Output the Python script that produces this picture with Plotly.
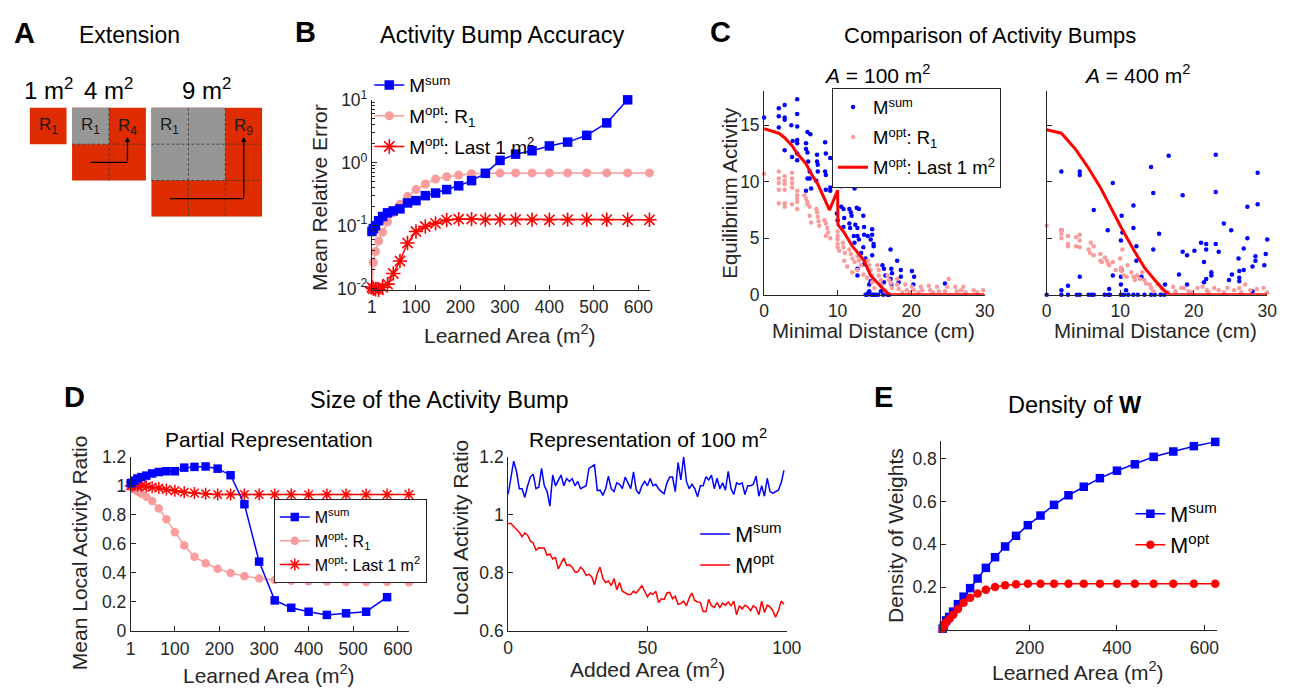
import math
import plotly.graph_objects as go

W, H = 1296, 694
FONT = "Liberation Sans, Arial, Helvetica, sans-serif"
INK = "#262626"
BLUE = "#0000FF"
RED = "#FF0000"
PINK = "#FA9C9C"
A_RED = "#DF2B00"
A_GRAY = "#969696"

# ---------------- data ----------------
learned_area = [1, 4, 9, 16, 25, 36, 49, 64, 81, 100, 121, 144, 169, 196, 225,
                256, 289, 324, 361, 400, 441, 484, 529, 576, 625]

# B: mean relative error
err_sum = [0.081, 0.09, 0.10, 0.12, 0.14, 0.16, 0.172, 0.185, 0.23, 0.25, 0.30, 0.33,
           0.375, 0.43, 0.52, 0.68, 1.09, 1.37, 1.55, 1.85, 2.13, 2.73, 4.3, 10.0]
err_r1 = [0.0103, 0.026, 0.039, 0.057, 0.079, 0.115, 0.16, 0.22, 0.29, 0.375, 0.46, 0.55,
          0.60, 0.64, 0.67, 0.68, 0.685, 0.69, 0.69, 0.69, 0.69, 0.69, 0.69, 0.69, 0.69]
err_last = [0.0105, 0.0100, 0.0098, 0.0096, 0.0105, 0.0118, 0.0174, 0.0275, 0.053, 0.081,
            0.097, 0.109, 0.123, 0.127, 0.127, 0.125, 0.125, 0.125, 0.125, 0.124, 0.125,
            0.125, 0.125, 0.124, 0.124]

# C: equilibrium activity vs minimal distance (A = 100 m^2)
c100_sum_pts = [(0, 15.7), (2, 16.5), (2, 15.8), (2, 14.8), (2.8, 16.8), (2.8, 15.7), (2.8, 15.5),
                (2.8, 12.8), (4.5, 17.3), (4.5, 16.0), (4.5, 14.9), (3.9, 13.6), (4.5, 13.7),
                (4.5, 13.4), (4.5, 12.5), (3.8, 12.2), (4.5, 11.9), (3.7, 15.0), (5.9, 14.4),
                (6.3, 14.2), (5.7, 13.4), (5.7, 12.9), (5.9, 12.6), (6.0, 11.8), (6.2, 10.9),
                (5.9, 10.3), (6.2, 10.3), (6.4, 9.4), (5.7, 9.2), (7.2, 12.4), (7.2, 11.8),
                (7.3, 11.5), (7.3, 10.9), (7.1, 10.1), (8.3, 13.5), (8.4, 12.5), (8.3, 10.9),
                (8.4, 10.6), (8.4, 9.3), (9.0, 12.1), (9.0, 9.5), (9.0, 9.2), (10, 10.1),
                (10, 9.8), (10.5, 9.6), (9.9, 7.2), (10, 6.6), (10.5, 7.8), (10.8, 7.6),
                (10.9, 6.8), (10.8, 6.0), (12.3, 9.4), (11.6, 7.6), (11.8, 7.3), (11.9, 7.0),
                (12.6, 7.7), (12.9, 7.6), (11.6, 6.3), (11.7, 5.9), (12.2, 5.2), (12.4, 6.2),
                (12.7, 5.9), (12.7, 5.2), (12.9, 4.9), (12.3, 4.6), (13.5, 7.0), (13.6, 6.0),
                (13.6, 5.3), (14.1, 5.2), (14.7, 5.8), (14.7, 5.3), (14.5, 4.9), (13.5, 4.2),
                (13.2, 3.7), (13.8, 3.2), (13.6, 2.7), (12.7, 2.3), (12.7, 1.7), (14.9, 4.5),
                (14.9, 4.3), (14.7, 3.5), (14.5, 1.2), (14.3, 0.9), (14.3, 0.3), (14.1, 0.1),
                (14.8, 0.0), (15.0, 0.0), (16.1, 2.6), (16.3, 2.3), (16.5, 1.7), (16.3, 1.1),
                (15.9, 0.3), (16.2, 0.0), (17.2, 4.0), (17.3, 2.3), (17.4, 1.9), (17.2, 1.4),
                (17.3, 0.9), (18.1, 3.0), (18.6, 2.2), (18.6, 1.6), (18.3, 1.1), (20.1, 2.1),
                (20.4, 1.6), (20.3, 0.9), (24.6, 1.0), (13.8, 0.0), (14.0, 0.0), (14.6, 0.0),
                (15.2, 0.0), (15.5, 0.0), (16.8, 0.0), (17.0, 0.0)]
c100_r1_pts = [(0, 10.7), (2, 10.9), (2, 10.3), (2, 9.9), (2, 9.3), (2, 8.1), (2.8, 10.5), (2.8, 10.1),
               (2.8, 9.8), (2.8, 9.3), (2.8, 8.1), (2.8, 7.8), (3.8, 10.8), (3.8, 10.3), (3.8, 9.9),
               (3.8, 9.5), (3.8, 8.0), (4.5, 9.2), (4.5, 8.8), (4.5, 8.5), (4.5, 8.2), (4.5, 7.6),
               (5.5, 8.8), (5.7, 8.5), (5.9, 8.2), (5.9, 8.0), (6.2, 7.8), (6.2, 7.0), (6.4, 6.4),
               (7.1, 7.6), (7.2, 7.3), (7.3, 6.9), (7.4, 6.5), (7.5, 6.1), (8.2, 6.6), (8.4, 6.3),
               (8.6, 5.9), (8.7, 5.5), (8.4, 5.2), (9.0, 5.0), (10, 5.6), (10, 5.2), (10, 4.9),
               (10, 4.5), (10, 4.2), (10.2, 3.9), (10.7, 4.6), (10.8, 4.2), (11.0, 3.7), (10.9, 3.0),
               (11.6, 4.0), (11.8, 3.6), (12.0, 3.2), (12.3, 2.9), (12.7, 3.4), (12.9, 3.0),
               (13.2, 2.6), (12.7, 2.2), (14.1, 3.0), (14.3, 2.6), (14.5, 2.2), (14.7, 1.7),
               (14.7, 1.1), (15.4, 2.6), (15.6, 2.2), (15.6, 1.7), (15.9, 1.3), (15.9, 0.9),
               (16.8, 1.7), (17.0, 1.3), (17.2, 1.0), (17.4, 0.6), (18.1, 1.4), (18.1, 0.9),
               (18.3, 0.5), (19.2, 0.9), (19.4, 0.4), (19.8, 0.2), (20.1, 0.7), (20.4, 0.4),
               (21.3, 0.7), (21.5, 0.4), (22.4, 0.8), (22.6, 0.4), (23.5, 0.7), (23.8, 0.3),
               (25.1, 1.4), (24.9, 0.7), (24.6, 0.3), (26.0, 0.7), (26.2, 0.3), (27.1, 0.7),
               (27.4, 0.2), (28.5, 0.4), (29.8, 0.4), (29.0, 0.2), (11.3, 2.5), (12.0, 2.0),
               (13.5, 1.8), (14.0, 1.5), (15.0, 0.6), (16.5, 0.4), (18.8, 0.2), (21.0, 0.2),
               (23.0, 0.2), (26.8, 0.4)]
c100_last_dist = [0, 2, 2.8, 3.8, 4.5, 5.7, 6.6, 7.3, 8.2, 8.9, 10.0, 10.05, 10.9, 12.0, 12.9,
                  13.6, 14.5, 15.4, 16.5, 17.1, 20, 25, 30]
c100_last_act = [14.7, 14.3, 13.9, 13.2, 12.5, 11.6, 10.5, 9.8, 8.5, 7.5, 9.25, 6.2, 5.5, 4.3,
                 3.6, 3.0, 1.7, 1.1, 0.3, 0, 0, 0, 0]

# C: A = 400 m^2
c400_sum_pts = [(0, 0), (2, 10.9), (2, 5.7), (2, 0.4), (2, 0), (2.9, 0.8), (2.9, 0), (4.5, 10.9),
                (4.5, 10.6), (4.5, 1.6), (4.1, 0), (4.5, 0), (6.4, 7.5), (5.7, 0), (6.1, 0), (6.4, 0),
                (8.3, 5.7), (8.5, 0.5), (7.9, 0), (8.4, 0), (8.6, 0), (9.0, 9.9), (9.0, 1.7),
                (10.2, 7.0), (10.1, 4.8), (10.3, 5.5), (10.2, 2.2), (10.1, 1.6), (10.1, 0.9),
                (10.8, 0.4), (10.1, 0), (10.5, 0), (11.1, 0), (11.8, 7.9), (11.8, 5.9), (12.2, 4.3),
                (12.2, 3.0), (12.9, 1.6), (11.8, 0), (12.4, 0), (13.3, 0), (14.2, 11.3), (14.5, 9.0),
                (14.5, 4.0), (14.2, 0), (14.7, 0), (16.6, 12.3), (15.3, 5.4), (16.1, 0.9), (15.5, 0),
                (16.0, 0), (18.5, 8.8), (18.0, 1.8), (18.5, 3.8), (19.1, 3.5), (19.1, 0.9),
                (20.1, 3.9), (21.0, 4.6), (21.7, 4.5), (21.7, 4.0), (21.4, 2.9), (21.7, 1.4),
                (21.4, 1.1), (22.4, 2.0), (22.4, 1.7), (23.0, 12.4), (23.0, 9.1), (23.0, 4.5),
                (23.4, 3.8), (24.1, 6.3), (25.1, 5.7), (24.8, 1.3), (25.2, 1.8), (26.1, 3.2),
                (26.2, 2.1), (26.2, 1.5), (26.2, 1.2), (26.8, 4.1), (26.8, 2.2), (27.3, 7.8),
                (27.3, 5.0), (28.0, 0.3), (28.0, 2.5), (28.4, 3.0), (28.4, 3.4), (28.7, 10.8),
                (28.7, 8.0), (29.8, 3.6), (29.6, 2.6), (30.0, 4.9)]
c400_r1_pts = [(0, 6.1), (2, 5.7), (2, 5.4), (2, 5.0), (2.9, 5.2), (2.9, 4.5), (2.9, 4.3), (4.0, 5.1),
               (4.0, 4.3), (4.5, 5.3), (4.5, 4.8), (4.5, 4.2), (5.7, 4.0), (5.9, 3.7), (6.0, 4.6),
               (6.4, 4.3), (6.4, 3.5), (7.3, 3.6), (7.3, 3.0), (7.5, 2.9), (7.9, 3.3), (8.2, 3.0),
               (8.4, 2.7), (8.5, 2.6), (10, 3.2), (10.1, 2.4), (10.2, 2.1), (10.5, 1.7), (10.3, 4.0),
               (10.9, 1.6), (11.5, 2.0), (11.8, 1.6), (12.0, 1.3), (12.3, 1.7), (12.7, 1.4),
               (13.3, 1.3), (13.5, 1.0), (14.0, 0.9), (14.2, 0.6), (14.5, 0.3), (15.1, 0.9),
               (15.6, 0.6), (15.9, 0.3), (17.2, 0.7), (17.5, 0.3), (18.3, 0.6), (18.7, 0.6),
               (19.3, 0.3), (20.5, 0.6), (21.2, 0.7), (21.8, 0.4), (22.8, 0.6), (23.4, 0.4),
               (24.1, 0.2), (24.6, 0.6), (25.5, 0.4), (26.2, 0.6), (27.0, 0.9), (27.7, 0.4),
               (28.6, 0.5), (29.5, 0.6), (30.0, 0.2), (9.4, 2.2), (9.0, 2.9), (11.0, 2.6),
               (13.0, 2.0), (16.5, 0.2), (19.8, 0.2), (22.0, 0.2), (26.5, 0.2)]
c400_last_dist = [0, 2, 3.9, 5.7, 7.3, 8.8, 10.1, 11.8, 13.3, 14.7, 15.8, 16.7, 20, 25, 30]
c400_last_act = [14.6, 14.3, 12.9, 11.2, 9.5, 7.6, 6.0, 4.0, 2.4, 1.3, 0.5, 0, 0, 0, 0]

# D: mean local activity ratio (partial representation)
ratio_sum = [1.018, 1.02, 1.035, 1.05, 1.06, 1.07, 1.085, 1.095, 1.10, 1.10, 1.125, 1.13,
             1.133, 1.118, 1.073, 0.873, 0.478, 0.211, 0.16, 0.133, 0.111, 0.122, 0.133, 0.233]
ratio_r1 = [1.0, 0.99, 0.975, 0.96, 0.945, 0.925, 0.895, 0.844, 0.769, 0.68, 0.589, 0.511,
            0.467, 0.429, 0.40, 0.378, 0.362, 0.351, 0.347, 0.342, 0.341, 0.338, 0.338, 0.337, 0.336]
ratio_last = [1.0, 1.0, 1.005, 1.0, 1.0, 0.995, 0.99, 0.985, 0.975, 0.965, 0.955, 0.95, 0.945,
              0.94, 0.94, 0.94, 0.94, 0.94, 0.94, 0.938, 0.94, 0.94, 0.94, 0.94, 0.94]

# D: representation of 100 m^2
added_area = list(range(0, 100))
local_sum = [1.07, 1.13, 1.185, 1.15, 1.09, 1.09, 1.06, 1.10, 1.13, 1.14,
             1.09, 1.095, 1.16, 1.10, 1.08, 1.03, 1.137, 1.10, 1.12, 1.137,
             1.10, 1.125, 1.115, 1.125, 1.10, 1.115, 1.09, 1.095, 1.10, 1.16,
             1.165, 1.172, 1.084, 1.085, 1.067, 1.09, 1.133, 1.09, 1.08, 1.11,
             1.105, 1.09, 1.13, 1.11, 1.09, 1.148, 1.085, 1.072, 1.10, 1.115,
             1.10, 1.125, 1.10, 1.105, 1.09, 1.08, 1.073, 1.11, 1.13, 1.13,
             1.08, 1.18, 1.12, 1.20, 1.115, 1.09, 1.105, 1.09, 1.062, 1.10,
             1.10, 1.131, 1.12, 1.137, 1.09, 1.126, 1.09, 1.11, 1.085, 1.15,
             1.09, 1.07, 1.11, 1.105, 1.11, 1.07, 1.10, 1.10, 1.105, 1.133,
             1.064, 1.10, 1.064, 1.126, 1.08, 1.075, 1.08, 1.085, 1.11, 1.153]
local_opt = [0.97, 0.97, 0.96, 0.95, 0.94, 0.925, 0.937, 0.93, 0.91, 0.903,
             0.878, 0.887, 0.887, 0.885, 0.861, 0.865, 0.848, 0.853, 0.814, 0.833,
             0.851, 0.826, 0.828, 0.82, 0.803, 0.803, 0.82, 0.81, 0.792, 0.795,
             0.787, 0.759, 0.798, 0.82, 0.781, 0.767, 0.772, 0.756, 0.781, 0.742,
             0.767, 0.737, 0.731, 0.726, 0.726, 0.737, 0.731, 0.742, 0.756, 0.737,
             0.718, 0.731, 0.726, 0.737, 0.698, 0.711, 0.709, 0.731, 0.733, 0.711,
             0.72, 0.692, 0.695, 0.703, 0.687, 0.714, 0.731, 0.705, 0.70, 0.698,
             0.667, 0.667, 0.709, 0.687, 0.681, 0.698, 0.681, 0.696, 0.689, 0.70,
             0.687, 0.703, 0.656, 0.687, 0.676, 0.689, 0.683, 0.67, 0.687, 0.68,
             0.656, 0.703, 0.664, 0.689, 0.683, 0.67, 0.648, 0.67, 0.703, 0.692]

# E: density of weights
dens_sum = [0.005, 0.02, 0.044, 0.06, 0.085, 0.12, 0.155, 0.195, 0.24, 0.29, 0.34, 0.39, 0.44,
            0.49, 0.535, 0.585, 0.63, 0.67, 0.71, 0.745, 0.775, 0.81, 0.835, 0.86, 0.88]
dens_opt = [0.005, 0.015, 0.035, 0.05, 0.07, 0.097, 0.127, 0.15, 0.17, 0.187, 0.20, 0.208,
            0.213, 0.215, 0.216, 0.216, 0.216, 0.216, 0.216, 0.216, 0.216, 0.216, 0.216, 0.216, 0.216]

# A: extension areas
ext_areas = [1, 4, 9]

# ---------------- helpers ----------------
def fx(p):
    return p / W


def fy(p):
    return 1 - p / H


def dom_x(a, b):
    return [fx(a), fx(b)]


def dom_y(top, bottom):
    return [fy(bottom), fy(top)]


TICKSIZE = 17.5


def axis(**kw):
    d = dict(showline=True, linecolor=INK, linewidth=1, ticks="inside", ticklen=5,
             tickwidth=1, tickcolor=INK, showgrid=False, zeroline=False, mirror=False,
             tickfont=dict(family=FONT, size=TICKSIZE, color=INK), fixedrange=True)
    d.update(kw)
    return d


annos = []


def txt(s, x, y, size, angle=0, color="#111111", xanchor="center", yanchor="middle"):
    annos.append(dict(text=s, x=fx(x), y=fy(y), xref="paper", yref="paper", showarrow=False,
                      font=dict(family=FONT, size=size, color=color), textangle=angle,
                      xanchor=xanchor, yanchor=yanchor))


fig = go.Figure()

N_SUM = "M<sup>sum</sup>"
N_R1 = "M<sup>opt</sup>: R<sub>1</sub>"
N_LAST = "M<sup>opt</sup>: Last 1 m<sup>2</sup>"

# ---------------- B ----------------
fig.add_trace(go.Scatter(x=learned_area, y=err_r1, mode="lines+markers", name=N_R1,
                         line=dict(color=PINK, width=1.5),
                         marker=dict(symbol="circle", size=9, color=PINK),
                         xaxis="x", yaxis="y", legend="legend", legendrank=2, legendgroup="b2",
                         cliponaxis=False))
fig.add_trace(go.Scatter(x=learned_area, y=err_last, mode="lines+markers", name=N_LAST,
                         line=dict(color=RED, width=1.5),
                         marker=dict(symbol="asterisk-open", size=12, line=dict(color=RED, width=1.6)),
                         xaxis="x", yaxis="y", legend="legend", legendrank=3, legendgroup="b3",
                         cliponaxis=False))
fig.add_trace(go.Scatter(x=learned_area[:len(err_sum)], y=err_sum, mode="lines+markers", name=N_SUM,
                         line=dict(color=BLUE, width=1.5),
                         marker=dict(symbol="square", size=9.5, color=BLUE),
                         xaxis="x", yaxis="y", legend="legend", legendrank=1, legendgroup="b1",
                         cliponaxis=False))

# ---------------- C ----------------
for pts_sum, pts_r1, ld, la, xa, ya, show in [
        (c100_sum_pts, c100_r1_pts, c100_last_dist, c100_last_act, "x2", "y2", True),
        (c400_sum_pts, c400_r1_pts, c400_last_dist, c400_last_act, "x3", "y3", False)]:
    fig.add_trace(go.Scatter(x=[p[0] for p in pts_sum], y=[p[1] for p in pts_sum], mode="markers",
                             name=N_SUM, marker=dict(size=4.5, color=BLUE), xaxis=xa, yaxis=ya,
                             legend="legend2", legendgroup="c1", showlegend=show, cliponaxis=False))
    fig.add_trace(go.Scatter(x=[p[0] for p in pts_r1], y=[p[1] for p in pts_r1], mode="markers",
                             name=N_R1, marker=dict(size=4.5, color=PINK), xaxis=xa, yaxis=ya,
                             legend="legend2", legendgroup="c2", showlegend=show, cliponaxis=False))
    fig.add_trace(go.Scatter(x=ld, y=la, mode="lines", name=N_LAST,
                             line=dict(color=RED, width=3), xaxis=xa, yaxis=ya,
                             legend="legend2", legendgroup="c3", showlegend=show, cliponaxis=False))

# ---------------- D left ----------------
fig.add_trace(go.Scatter(x=learned_area, y=ratio_r1, mode="lines+markers", name=N_R1,
                         line=dict(color=PINK, width=1.5),
                         marker=dict(symbol="circle", size=8.5, color=PINK),
                         xaxis="x4", yaxis="y4", legend="legend3", legendrank=2, cliponaxis=False))
fig.add_trace(go.Scatter(x=learned_area, y=ratio_last, mode="lines+markers", name=N_LAST,
                         line=dict(color=RED, width=1.5),
                         marker=dict(symbol="asterisk-open", size=10, line=dict(color=RED, width=1.5)),
                         xaxis="x4", yaxis="y4", legend="legend3", legendrank=3, cliponaxis=False))
fig.add_trace(go.Scatter(x=learned_area[:len(ratio_sum)], y=ratio_sum, mode="lines+markers", name=N_SUM,
                         line=dict(color=BLUE, width=1.5),
                         marker=dict(symbol="square", size=8.5, color=BLUE),
                         xaxis="x4", yaxis="y4", legend="legend3", legendrank=1, cliponaxis=False))

# ---------------- D right ----------------
fig.add_trace(go.Scatter(x=added_area, y=local_sum, mode="lines", name=N_SUM,
                         line=dict(color=BLUE, width=1.5), xaxis="x5", yaxis="y5", legend="legend4"))
fig.add_trace(go.Scatter(x=added_area, y=local_opt, mode="lines", name="M<sup>opt</sup>",
                         line=dict(color=RED, width=1.5), xaxis="x5", yaxis="y5", legend="legend4"))

# ---------------- E ----------------
fig.add_trace(go.Scatter(x=learned_area, y=dens_sum, mode="lines+markers", name=N_SUM,
                         line=dict(color=BLUE, width=1.5),
                         marker=dict(symbol="square", size=8.5, color=BLUE),
                         xaxis="x6", yaxis="y6", legend="legend5", cliponaxis=False))
fig.add_trace(go.Scatter(x=learned_area, y=dens_opt, mode="lines+markers", name="M<sup>opt</sup>",
                         line=dict(color=RED, width=1.5),
                         marker=dict(symbol="circle", size=8.5, color=RED),
                         xaxis="x6", yaxis="y6", legend="legend5", cliponaxis=False))

# ---------------- A (schematic) ----------------
shapes = []
offsets = [0.0, 1.15, 3.3]
for area, off in zip(ext_areas, offsets):
    s = int(round(math.sqrt(area)))
    shapes.append(dict(type="rect", xref="x7", yref="y7", x0=off, x1=off + s, y0=0, y1=s,
                       fillcolor=A_RED, line=dict(width=0), layer="above"))
    if s > 1:
        shapes.append(dict(type="rect", xref="x7", yref="y7", x0=off, x1=off + s - 1, y0=0, y1=s - 1,
                           fillcolor=A_GRAY, line=dict(width=0), layer="above"))
        for k in range(1, s):
            shapes.append(dict(type="line", xref="x7", yref="y7", x0=off + k, x1=off + k, y0=0, y1=s,
                               line=dict(color="#3a3a3a", width=0.8, dash="3px,2px"), layer="above"))
            shapes.append(dict(type="line", xref="x7", yref="y7", x0=off, x1=off + s, y0=k, y1=k,
                               line=dict(color="#3a3a3a", width=0.8, dash="3px,2px"), layer="above"))
        # path of extension
        shapes.append(dict(type="line", xref="x7", yref="y7", x0=off + 0.5, x1=off + s - 0.5,
                           y0=s - 0.5, y1=s - 0.5, line=dict(color="black", width=1.3), layer="above"))
        annos.append(dict(x=off + s - 0.5, y=0.8, ax=off + s - 0.5, ay=s - 0.5, xref="x7", yref="y7",
                          axref="x7", ayref="y7", showarrow=True, text="", arrowhead=2, arrowsize=0.8,
                          arrowwidth=1.3, arrowcolor="black"))
        annos.append(dict(x=off + s - 0.5, y=0.52, xref="x7", yref="y7", showarrow=False,
                          text="R<sub>%d</sub>" % area, font=dict(family=FONT, size=17, color="#1a1a1a")))
    annos.append(dict(x=off + 0.5, y=0.5, xref="x7", yref="y7", showarrow=False,
                      text="R<sub>1</sub>", font=dict(family=FONT, size=17, color="#1a1a1a")))
    annos.append(dict(x=off + s / 2.0, y=-0.05, xref="x7", yref="y7", showarrow=False, yanchor="bottom",
                      text="%d m<sup>2</sup>" % area, font=dict(family=FONT, size=24, color="black")))

# ---------------- text ----------------
txt("<b>A</b>", 20, 22, 29, color="black")
txt("Extension", 126, 24, 23, color="black")
txt("<b>B</b>", 305, 21, 29, color="black")
txt("Activity Bump Accuracy", 505, 24, 23.5, color="black")
txt("<b>C</b>", 727, 21, 29, color="black")
txt("Comparison of Activity Bumps", 1000, 24, 22, color="black")
txt("<i>A</i> = 100 m<sup>2</sup>", 886, 64, 21, color="black")
txt("<i>A</i> = 400 m<sup>2</sup>", 1150, 64, 21, color="black")
txt("<b>D</b>", 71, 398, 29, color="black")
txt("Size of the Activity Bump", 441, 401, 23.5, color="black")
txt("Partial Representation", 268, 442, 21, color="black")
txt("Representation of 100 m<sup>2</sup>", 653, 440, 21, color="black")
txt("<b>E</b>", 892, 398, 29, color="black")
txt("Density of <b>W</b>", 1087, 406, 23.5, color="black")

txt("Mean Relative Error", 320, 192, 21, angle=-90, color=INK)
txt("Learned Area (m<sup>2</sup>)", 513, 333, 21, color=INK)
txt("Equilibrium Activity", 735, 187, 20.5, angle=-90, color=INK)
txt("Minimal Distance (cm)", 882, 329, 20.5, color=INK)
txt("Minimal Distance (cm)", 1169, 329, 20.5, color=INK)
txt("Mean Local Activity Ratio", 75, 558, 21, angle=-90, color=INK)
txt("Learned Area (m<sup>2</sup>)", 268, 684, 21, color=INK)
txt("Local Activity Ratio", 462, 533, 21, angle=-90, color=INK)
txt("Added Area (m<sup>2</sup>)", 653, 677, 21, color=INK)
txt("Density of Weights", 905, 541, 21, angle=-90, color=INK)
txt("Learned Area (m<sup>2</sup>)", 1090, 681, 21, color=INK)

area_ticks = [1, 100, 200, 300, 400, 500, 600]

legend_common = dict(xanchor="left", yanchor="top", bgcolor="rgba(255,255,255,0)",
                     itemclick=False, itemdoubleclick=False)

fig.update_layout(
    width=W, height=H, autosize=False, margin=dict(l=0, r=0, t=0, b=0),
    paper_bgcolor="white", plot_bgcolor="rgba(0,0,0,0)",
    font=dict(family=FONT, color=INK),
    showlegend=True,
    # B
    xaxis=axis(domain=dom_x(372.7, 655), anchor="y", range=[1, 626], tickvals=area_ticks,
               ticklabelstandoff=1),
    yaxis=axis(domain=dom_y(90.7, 287), anchor="x", type="log", range=[math.log10(0.00955), 1.0],
               tickvals=[0.01, 0.1, 1, 10],
               ticktext=["10<sup>-2</sup>", "10<sup>-1</sup>", "10<sup>0</sup>", "10<sup>1</sup>"],
               minor=dict(ticks="inside", ticklen=3, tickcolor=INK,
                          tickvals=[m * 10 ** e for e in (-2, -1, 0) for m in range(2, 10)])),
    # C left
    xaxis2=axis(domain=dom_x(771, 995), anchor="y2", range=[0, 30], tickvals=[0, 10, 20, 30]),
    yaxis2=axis(domain=dom_y(82, 292), anchor="x2", range=[0, 18], tickvals=[0, 5, 10, 15]),
    # C right
    xaxis3=axis(domain=dom_x(1058, 1282), anchor="y3", range=[0, 30], tickvals=[0, 10, 20, 30]),
    yaxis3=axis(domain=dom_y(82, 292), anchor="x3", range=[0, 18], tickvals=[0, 5, 10, 15],
                showticklabels=False),
    # D left
    xaxis4=axis(domain=dom_x(127.7, 410.7), anchor="y4", range=[1, 626], tickvals=area_ticks,
                ticklabelstandoff=2),
    yaxis4=axis(domain=dom_y(459.3, 639.3), anchor="x4", range=[0, 1.2],
                tickvals=[0, 0.2, 0.4, 0.6, 0.8, 1.0, 1.2],
                ticktext=["0", "0.2", "0.4", "0.6", "0.8", "1", "1.2"]),
    # D right
    xaxis5=axis(domain=dom_x(511, 794), anchor="y5", range=[0, 100], tickvals=[0, 50, 100],
                ticklabelstandoff=1),
    yaxis5=axis(domain=dom_y(459.3, 639.3), anchor="x5", range=[0.6, 1.2],
                tickvals=[0.6, 0.8, 1.0, 1.2], ticktext=["0.6", "0.8", "1", "1.2"]),
    # E
    xaxis6=axis(domain=dom_x(951, 1231), anchor="y6", range=[-2, 629], tickvals=[200, 400, 600],
                ticklabelstandoff=2),
    yaxis6=axis(domain=dom_y(443.3, 638), anchor="x6", range=[0, 0.883],
                tickvals=[0.2, 0.4, 0.6, 0.8]),
    # A
    xaxis7=dict(domain=dom_x(25, 261.25), anchor="y7", range=[0, 6.3], visible=False, fixedrange=True),
    yaxis7=dict(domain=dom_y(99 - 0.8 * 37.5, 211.5), anchor="x7", range=[3, -0.8], visible=False,
                fixedrange=True),
    legend=dict(legend_common, x=fx(370), y=fy(56), tracegroupgap=3,
                font=dict(family=FONT, size=19, color="black")),
    legend2=dict(legend_common, x=fx(840), y=fy(78), tracegroupgap=3, bgcolor="white",
                 bordercolor=INK, borderwidth=1, font=dict(family=FONT, size=18.5, color="black")),
    legend3=dict(legend_common, x=fx(273), y=fy(503), bgcolor="white", bordercolor=INK, borderwidth=1,
                 font=dict(family=FONT, size=16, color="black")),
    legend4=dict(legend_common, x=fx(701), y=fy(518), font=dict(family=FONT, size=21.5, color="black")),
    legend5=dict(legend_common, x=fx(1143), y=fy(497), font=dict(family=FONT, size=21.5, color="black")),
    shapes=shapes,
    annotations=annos,
)

fig.write_html(
    "out.html",
    post_script="document.body.style.margin='0';document.body.style.overflow='hidden';",
)
